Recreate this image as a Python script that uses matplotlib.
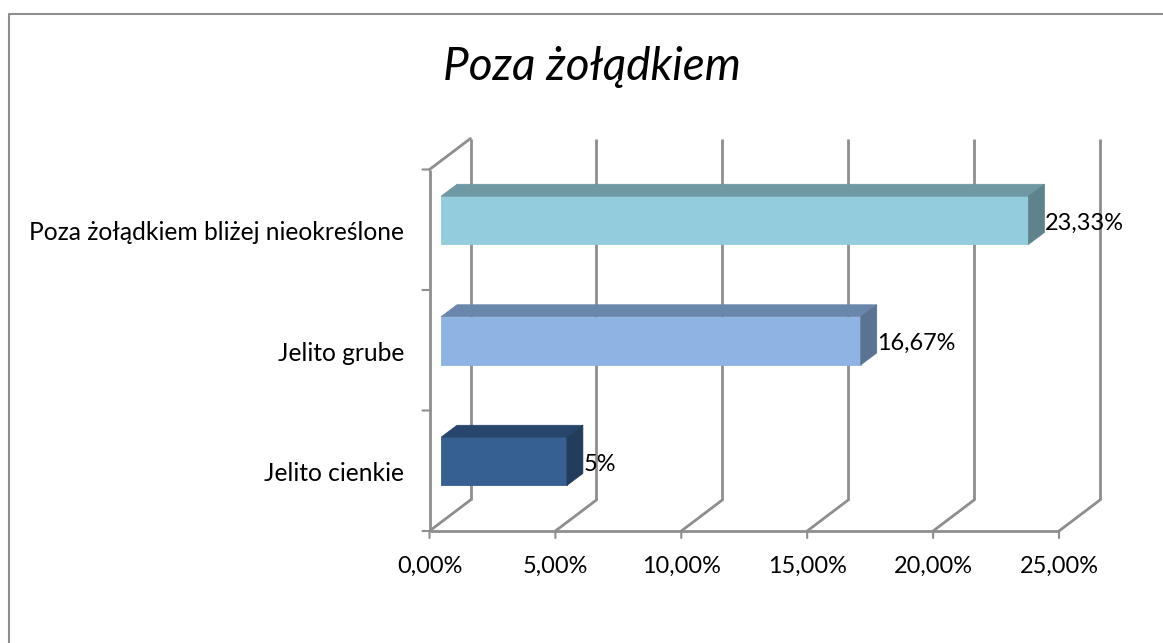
import matplotlib
matplotlib.use("Agg")
import matplotlib.pyplot as plt
from matplotlib.patches import Polygon
from matplotlib.transforms import Affine2D

categories = ["Jelito cienkie", "Jelito grube", "Poza żołądkiem bliżej nieokreślone"]
values = [5.0, 16.67, 23.33]
value_labels = ["5%", "16,67%", "23,33%"]
front_colors = ["#376092", "#8EB4E3", "#93CDDD"]
top_colors = ["#28466B", "#6A86AB", "#6D98A4"]
side_colors = ["#223C5C", "#5B7393", "#5E838D"]
x_ticks = [0, 5, 10, 15, 20, 25]
x_tick_labels = ["0,00%", "5,00%", "10,00%", "15,00%", "20,00%", "25,00%"]
title = "Poza żołądkiem"

W, H = 1163, 643
FONT = "Lato"
FS = 16.9
FS_CAT = 17.7
GRID = "#8E8E8E"
plt.rcParams["font.family"] = [FONT, "DejaVu Sans"]
fig = plt.figure(figsize=(W / 100, H / 100), dpi=100, facecolor="white")

# chart frame (figure pixels)
fig.add_artist(plt.Line2D([9.0 / W, 9.0 / W, 1], [0, 1 - 13.5 / H, 1 - 13.5 / H],
                          color=GRID, lw=1.5, transform=fig.transFigure))

# front plane of the axes
ax = fig.add_axes([429.5 / W, 1 - 531 / H, 629.5 / W, 361.5 / H])
ax.set_xlim(0, 25)
ax.set_ylim(0, 3)
ax.axis("off")

DX, DY = 41, 31   # depth of the plot box, px
LW = 2.0


def shifted(dx, dy):
    return ax.transData + Affine2D().translate(dx, dy)


def seg(xy, off, lw=LW):
    ax.annotate("", xy=xy, xycoords="data", xytext=off, textcoords="offset pixels",
                arrowprops=dict(arrowstyle="-", color=GRID, lw=lw, shrinkA=0, shrinkB=0))


back = shifted(DX, DY)
for t, lab in zip(x_ticks, x_tick_labels):
    ax.plot([t, t], [0, 3], transform=back, color=GRID, lw=LW, clip_on=False, solid_capstyle="butt")
    seg((t, 0), (DX, DY))
    seg((t, 0), (0, -7), lw=1.5)
    ax.annotate(lab, xy=(t, 0), xycoords="data", xytext=(0, -42), textcoords="offset pixels",
                ha="center", va="baseline", fontsize=FS, color="black")

ax.plot([0, 0], [0, 3], color=GRID, lw=LW, clip_on=False, solid_capstyle="butt")
ax.plot([0, 25], [0, 0], color=GRID, lw=LW, clip_on=False, solid_capstyle="butt")
seg((0, 3), (DX, DY))
for i in range(4):
    seg((0, i), (-7, 0), lw=1.5)

# category labels
for i, c in enumerate(categories):
    ax.annotate(c, xy=(0, i + 0.5), xycoords="data", xytext=(-25.5, -3), textcoords="offset pixels",
                ha="right", va="center", fontsize=FS_CAT, color="black")

# 3D bars
BX, BY = 11.5, 9.4     # offset of the front face
BD_X, BD_Y = 16, 12  # bar depth
BAR_H = 0.4
front = shifted(BX, BY)
for i, (v, fc, tc, sc, lab) in enumerate(zip(values, front_colors, top_colors, side_colors, value_labels)):
    y0, y1 = i + 0.5 - BAR_H / 2, i + 0.5 + BAR_H / 2
    ax.barh(i + 0.5, v, height=BAR_H, color=fc, transform=front, zorder=5, clip_on=False,
            edgecolor=fc, linewidth=0.6)
    (x0p, y0p), (x1p, y1p) = front.transform([(0, y0), (v, y1)])
    top = [(x0p, y1p), (x1p, y1p), (x1p + BD_X, y1p + BD_Y), (x0p + BD_X, y1p + BD_Y)]
    side = [(x1p, y0p), (x1p + BD_X, y0p + BD_Y), (x1p + BD_X, y1p + BD_Y), (x1p, y1p)]
    ax.add_patch(Polygon(top, closed=True, transform=None, facecolor=tc, edgecolor=tc, lw=0.5, zorder=5, clip_on=False))
    ax.add_patch(Polygon(side, closed=True, transform=None, facecolor=sc, edgecolor=sc, lw=0.5, zorder=5, clip_on=False))
    ax.annotate(lab, xy=(v, i + 0.5), xycoords="data", xytext=(BX + BD_X + 0.5, 6.5), textcoords="offset pixels",
                ha="left", va="center", fontsize=FS, color="black", zorder=6)

fig.text(591.5 / W, 1 - 80 / H, title, ha="center", va="baseline", fontsize=33, style="italic", color="black")

fig.savefig("out.png", dpi=100, facecolor="white")
